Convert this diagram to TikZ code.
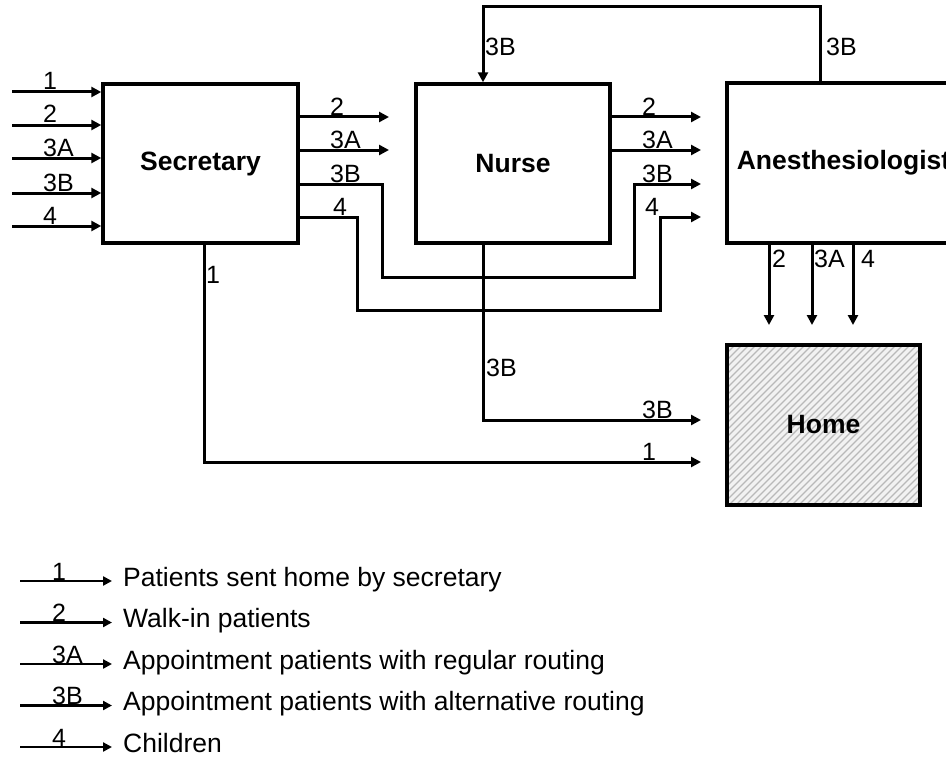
\documentclass[tikz,border=0pt]{standalone}
\usepackage{fontspec}
\setmainfont{Liberation Sans}
\usetikzlibrary{arrows.meta}
\begin{document}
\begin{tikzpicture}[x=1pt,y=-1pt,
  box/.style={draw, line width=3.4pt, inner sep=0pt, font=\fontsize{26.5}{30}\selectfont\bfseries},
  flow/.style={line width=3pt, -{Triangle[length=10pt,width=10pt]}},
  lbl/.style={inner sep=0pt, anchor=base west, font=\fontsize{25}{30}\selectfont},
  legtext/.style={inner sep=0pt, anchor=base west, font=\fontsize{26.5}{30}\selectfont},
  legflow/.style={line width=2.8pt, -{Triangle[length=9pt,width=9pt]}},
  hatch/.style={path picture={
      \foreach \k in {0,...,56}
        \draw[gray!55, line width=1.1pt]
          ([xshift=\k*7pt-180pt]path picture bounding box.south west) -- ++(180,-180);
  }}
]
\useasboundingbox (0,0) rectangle (946,760);
\clip (0,0) rectangle (946,760);

% boxes
\node[box, minimum width=195pt, minimum height=159pt] (sec) at (200.5,163.5) {Secretary};
\node[box, minimum width=194pt, minimum height=159pt] (nur) at (513,163.5) {Nurse};
\node[box, minimum width=233pt, minimum height=160pt] (ane) at (843.5,163) {Anesthesiologist};
\node[box, minimum width=193pt, minimum height=160pt, fill=gray!10, hatch] (home) at (823.5,425) {Home};

% inputs to secretary
\foreach \y/\t in {92/1,125/2,158/3A,193/3B,226/4} {
  \coordinate (in\t) at (12,\y);
  \draw[flow] (in\t) -- (sec.west |- in\t);
  \node[lbl] (lin\t) at (43,\y-2) {\t};
}

% secretary -> nurse and nurse -> anesthesiologist (straight)
\foreach \y/\t in {117/2,150/3A} {
  \coordinate (sn\t) at (389,\y);
  \draw[flow] (sec.east |- sn\t) -- (sn\t);
  \node[lbl] (lsn\t) at (330,\y-2) {\t};
  \coordinate (na\t) at (701,\y);
  \draw[flow] (nur.east |- na\t) -- (na\t);
  \node[lbl] (lna\t) at (642,\y-2) {\t};
}

% secretary -> anesthesiologist bypass (3B and 4)
\coordinate (e3B) at (701,184);
\coordinate (e4) at (701,217);
\draw[flow] (sec.east |- e3B) -- (382,184) -- (382,277) -- (634,277) -- (634,184) -- (e3B);
\draw[flow] (sec.east |- e4) -- (357,217) -- (357,310) -- (660,310) -- (660,217) -- (e4);
\node[lbl] (ls3B) at (330,182) {3B};
\node[lbl] (ls4) at (333,215) {4};
\node[lbl] (la3B) at (642,182) {3B};
\node[lbl] (la4) at (645,215) {4};

% feedback 3B anesthesiologist -> nurse
\coordinate (fbR) at (820,7);
\coordinate (fbL) at (483,7);
\draw[flow] (ane.north -| fbR) -- (fbR) -- (fbL) -- (nur.north -| fbL);
\node[lbl] (lfbL) at (485,56) {3B};
\node[lbl] (lfbR) at (826,56) {3B};

% anesthesiologist -> home
\foreach \x/\t/\lx in {769/2/772,812/3A/814,853/4/861} {
  \coordinate (ah\t) at (\x,325);
  \draw[flow] (ane.south -| ah\t) -- (ah\t);
  \node[lbl] (lah\t) at (\lx,267) {\t};
}

% nurse -> home (3B)
\coordinate (nh) at (701,420);
\draw[flow] (nur.south -| 483,0) -- (483,420) -- (nh);
\node[lbl] (lnh1) at (486,376) {3B};
\node[lbl] (lnh2) at (642,418) {3B};

% secretary -> home (1)
\coordinate (sh) at (701,462);
\draw[flow] (sec.south -| 204,0) -- (204,462) -- (sh);
\node[lbl] (lsh1) at (206,283) {1};
\node[lbl] (lsh2) at (642,460) {1};

% legend
\foreach \i/\y/\t/\d in {1/581/1/Patients sent home by secretary,
                         2/622.5/2/Walk-in patients,
                         3/664/3A/Appointment patients with regular routing,
                         4/705.5/3B/Appointment patients with alternative routing,
                         5/747/4/Children} {
  \coordinate (ls\i) at (20,\y);
  \coordinate (le\i) at (112,\y);
  \draw[legflow] (ls\i) -- (le\i);
  \node[lbl] (ll\i) at (52,\y-1) {\t};
  \node[legtext] (lt\i) at (123,\y+5) {\d};
}
\end{tikzpicture}
\end{document}
